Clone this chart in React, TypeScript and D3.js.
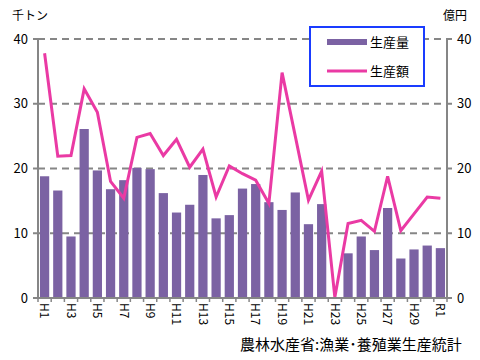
import React from "react";
import * as d3 from "d3";

const categories = ["H1","H2","H3","H4","H5","H6","H7","H8","H9","H10","H11","H12","H13","H14","H15","H16","H17","H18","H19","H20","H21","H22","H23","H24","H25","H26","H27","H28","H29","H30","R1"];
const production = [18.8,16.6,9.5,26.1,19.7,16.8,18.2,20.1,19.9,16.2,13.2,14.4,19.0,12.3,12.8,16.9,17.6,14.8,13.6,16.3,11.4,14.5,0,6.9,9.5,7.4,13.9,6.1,7.5,8.1,7.7];
const productionValue = [37.8,21.9,22.0,32.3,28.7,18.0,15.4,24.8,25.4,22.0,24.5,20.2,23.0,15.6,20.4,19.2,18.2,14.6,34.8,25.0,15.1,19.6,0.1,11.5,12.0,10.3,18.8,10.4,13.0,15.6,15.4];
const yTicks = [0,10,20,30,40];
const legendLabels = ["生産量","生産額"];

export default function App() {
  const W = 480, H = 360;
  const left = 38, right = 447, top = 39, bottom = 298;
  const x = d3.scaleBand().domain(categories).range([left, right]).paddingInner(0.3).paddingOuter(0.15);
  const step = (right - left) / categories.length;
  const y = d3.scaleLinear().domain([0, 40]).range([bottom, top]);
  const line = d3.line<number>().x((_, i) => (x(categories[i]) as number) + x.bandwidth() / 2).y(d => y(d));
  const font = "'Noto Sans CJK JP', 'Noto Sans', sans-serif";
  const axisColor = "#868686";
  const barColor = "#7b62a3";
  const lineColor = "#ea3aa4";
  return (
    <svg width={W} height={H} style={{ position: "absolute", left: 0, top: 0 }} fontFamily={font}>
      <rect width={W} height={H} fill="#fff" />
      {/* grid */}
      {yTicks.filter(t => t > 0).map(t => (
        <line key={t} x1={left} x2={right} y1={y(t)} y2={y(t)} stroke={axisColor} strokeWidth={2} strokeDasharray="7,5" />
      ))}
      {/* bars */}
      {production.map((v, i) => v > 0 ? (
        <rect key={i} x={x(categories[i])} y={y(v)} width={x.bandwidth()} height={y(0) - y(v)} fill={barColor} />
      ) : null)}
      {/* line */}
      <path d={line(productionValue) || ""} fill="none" stroke={lineColor} strokeWidth={3} strokeLinejoin="miter" />
      {/* axes */}
      <line x1={left} x2={left} y1={top} y2={bottom} stroke={axisColor} strokeWidth={2} />
      <line x1={right} x2={right} y1={top} y2={bottom} stroke={axisColor} strokeWidth={2} />
      <line x1={left - 4} x2={right + 4} y1={bottom} y2={bottom} stroke={axisColor} strokeWidth={2} />
      {yTicks.map(t => (
        <g key={t}>
          <line x1={left - 5} x2={left} y1={y(t)} y2={y(t)} stroke={axisColor} strokeWidth={2} />
          <line x1={right} x2={right + 5} y1={y(t)} y2={y(t)} stroke={axisColor} strokeWidth={2} />
          <text x={28} y={y(t)} dy="0.35em" textAnchor="end" fontSize={13} fill="#000">{t}</text>
          <text x={457} y={y(t)} dy="0.35em" textAnchor="start" fontSize={13} fill="#000">{t}</text>
        </g>
      ))}
      {categories.map((c, i) => (
        <line key={"t" + i} x1={left + step * i} x2={left + step * i} y1={bottom} y2={bottom + 4} stroke={axisColor} strokeWidth={1.5} />
      ))}
      <line x1={right} x2={right} y1={bottom} y2={bottom + 4} stroke={axisColor} strokeWidth={1.5} />
      {categories.map((c, i) => i % 2 === 0 ? (
        <text key={"l" + i} transform={`translate(${(x(c) as number) + x.bandwidth() / 2},${bottom + 5}) rotate(90)`} dy="0.35em" textAnchor="start" fontSize={12} fill="#000">{c}</text>
      ) : null)}
      {/* unit labels */}
      <text x={12} y={20} fontSize={12} fill="#000">千トン</text>
      <text x={443} y={20} fontSize={12} fill="#000">億円</text>
      {/* legend */}
      <rect x={310} y={27} width={114} height={59} fill="#fff" stroke="#1a3cff" strokeWidth={2} />
      <line x1={327} x2={367} y1={42} y2={42} stroke={barColor} strokeWidth={6} />
      <text x={370} y={42} dy="0.35em" fontSize={13} fill="#000">{legendLabels[0]}</text>
      <line x1={327} x2={367} y1={71} y2={71} stroke={lineColor} strokeWidth={3} />
      <text x={370} y={71} dy="0.35em" fontSize={13} fill="#000">{legendLabels[1]}</text>
      {/* source */}
      <text x={240} y={350} fontSize={15} fill="#000">農林水産省:漁業･養殖業生産統計</text>
    </svg>
  );
}
